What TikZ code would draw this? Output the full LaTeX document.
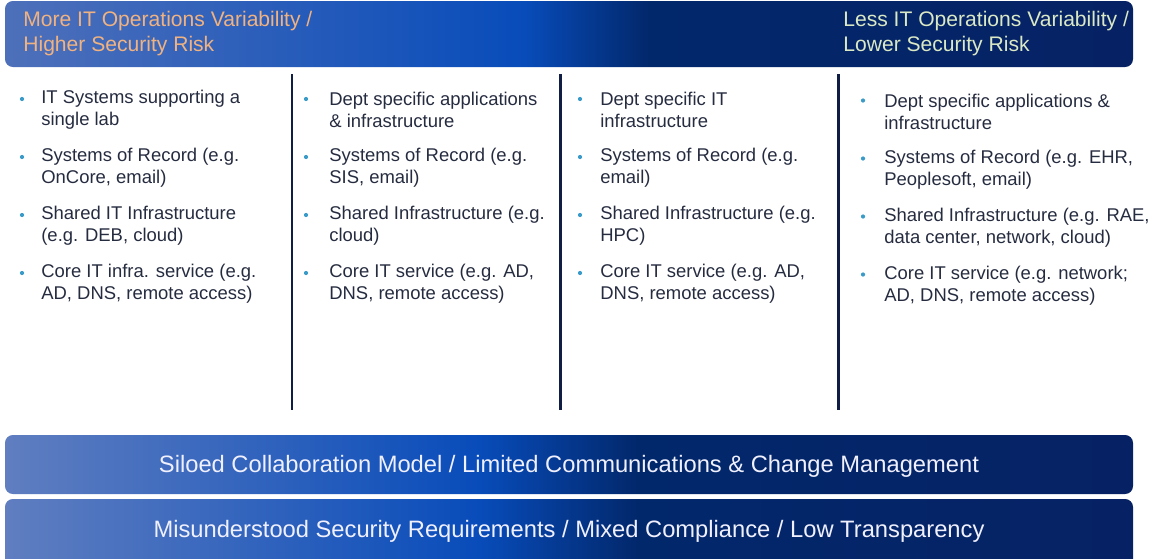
\documentclass[tikz,border=0pt]{standalone}
\usepackage{fontspec}
\setmainfont{Liberation Sans}
\definecolor{bandlight}{RGB}{78,112,186}
\definecolor{bandbright}{RGB}{8,76,186}
\definecolor{banddark}{RGB}{2,40,108}
\definecolor{banddeep}{RGB}{6,34,100}
\definecolor{barlight}{RGB}{96,126,192}
\definecolor{riskmore}{RGB}{240,178,128}
\definecolor{riskless}{RGB}{218,232,196}
\definecolor{itemtext}{RGB}{38,44,64}
\definecolor{dotblue}{RGB}{58,154,200}
\definecolor{rulenavy}{RGB}{16,30,70}
\pgfdeclarehorizontalshading{bandshade}{100bp}{color(0bp)=(bandlight); color(25bp)=(bandlight); color(48bp)=(bandbright); color(53.5bp)=(banddark); color(75bp)=(banddeep); color(100bp)=(banddeep)}
\pgfdeclarehorizontalshading{barshade}{100bp}{color(0bp)=(barlight); color(25bp)=(barlight); color(46bp)=(bandbright); color(53bp)=(banddark); color(75bp)=(banddeep); color(100bp)=(banddeep)}

\begin{document}
\begin{tikzpicture}
	[x=0.02cm,y=-0.02cm,
	item/.style={anchor=west, align=left, inner sep=0pt, text=itemtext, font=\fontsize{10.5}{12.6}\selectfont},
	dot/.style={circle, fill=dotblue, inner sep=0pt, minimum size=2.4pt},
	head/.style={anchor=west, align=left, inner sep=0pt, font=\fontsize{12}{14.2}\selectfont},
	bartext/.style={inner sep=0pt, text=white!94!blue, font=\fontsize{13.5}{16}\selectfont}]
	\useasboundingbox (0,0) rectangle (1151,558);
	\clip (0,0) rectangle (1151,558);
	
	% bands
	\shade[shading=bandshade, rounded corners=4.5pt] (5,1) rectangle (1133,67);
	\shade[shading=barshade, rounded corners=4.5pt] (5,435) rectangle (1133,494);
	\shade[shading=barshade, rounded corners=4.5pt] (5,499) rectangle (1133,570);
	
	\node[head, text=riskmore] (more) at (23,34) {More IT Operations Variability /\\Higher Security Risk};
	\node[head, text=riskless] (less) at (843,34) {Less IT Operations Variability /\\Lower Security Risk};
	
	% column rules
	\draw[rulenavy, line width=1.7pt] (292,74) -- (292,410);
	\draw[rulenavy, line width=1.7pt] (560,74) -- (560,410);
	\draw[rulenavy, line width=1.7pt] (838,74) -- (838,410);
	
	% column 1
	\node[dot] (d11) at (22,99) {};
	\node[item] (c11) at (41,110) {IT Systems supporting a\\single lab};
	\node[dot] (d12) at (22,157) {};
	\node[item] (c12) at (41,168) {Systems of Record (e.g.\\OnCore, email)};
	\node[dot] (d13) at (22,215) {};
	\node[item] (c13) at (41,226) {Shared IT Infrastructure\\(e.g. DEB, cloud)};
	\node[dot] (d14) at (22,273) {};
	\node[item] (c14) at (41,284) {Core IT infra. service (e.g.\\AD, DNS, remote access)};
	
	% column 2
	\node[dot] (d21) at (306,99) {};
	\node[item] (c21) at (329,110) {Dept specific applications\\\& infrastructure};
	\node[dot] (d22) at (306,157) {};
	\node[item] (c22) at (329,168) {Systems of Record (e.g.\\SIS, email)};
	\node[dot] (d23) at (306,215) {};
	\node[item] (c23) at (329,226) {Shared Infrastructure (e.g.\\cloud)};
	\node[dot] (d24) at (306,273) {};
	\node[item] (c24) at (329,284) {Core IT service (e.g. AD,\\DNS, remote access)};
	
	% column 3
	\node[dot] (d31) at (580,99) {};
	\node[item] (c31) at (600,110) {Dept specific IT\\infrastructure};
	\node[dot] (d32) at (580,157) {};
	\node[item] (c32) at (600,168) {Systems of Record (e.g.\\email)};
	\node[dot] (d33) at (580,215) {};
	\node[item] (c33) at (600,226) {Shared Infrastructure (e.g.\\HPC)};
	\node[dot] (d34) at (580,273) {};
	\node[item] (c34) at (600,284) {Core IT service (e.g. AD,\\DNS, remote access)};
	
	% column 4
	\node[dot] (d41) at (863,100.5) {};
	\node[item] (c41) at (884,111.5) {Dept specific applications \&\\infrastructure};
	\node[dot] (d42) at (863,158.5) {};
	\node[item] (c42) at (884,169.5) {Systems of Record (e.g. EHR,\\Peoplesoft, email)};
	\node[dot] (d43) at (863,216.5) {};
	\node[item] (c43) at (884,227.5) {Shared Infrastructure (e.g. RAE,\\data center, network, cloud)};
	\node[dot] (d44) at (863,274.5) {};
	\node[item] (c44) at (884,285.5) {Core IT service (e.g. network;\\AD, DNS, remote access)};
	
	% bottom bars
	\node[bartext] (silo) at (569,466) {Siloed Collaboration Model / Limited Communications \& Change Management};
	\node[bartext] (sec) at (569,531) {Misunderstood Security Requirements / Mixed Compliance / Low Transparency};
\end{tikzpicture}
\end{document}
